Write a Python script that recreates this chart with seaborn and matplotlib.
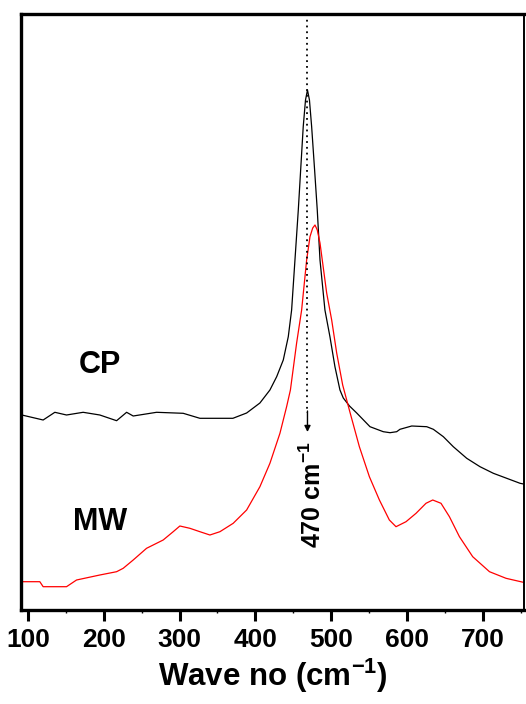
import matplotlib
matplotlib.use("Agg")
import matplotlib.pyplot as plt
import seaborn as sns
import pandas as pd
from matplotlib.ticker import MultipleLocator

# ---- data ----
cp_wn = [92.1, 120.2, 135.6, 151.0, 172.9, 194.9, 217.0, 230.2, 238.9, 269.7, 304.8,
         326.8, 370.3, 388.4, 405.9, 419.1, 428.0, 436.7, 443.3, 447.7, 452.1, 456.5,
         460.0, 463.0, 466.0, 468.6, 471.2, 474.1, 478.0, 481.5, 485.1, 491.6, 498.2,
         504.8, 511.4, 515.8, 524.0, 533.5, 551.0, 568.5, 577.4, 586.2, 590.5, 606.0,
         625.8, 634.5, 647.7, 660.8, 678.5, 696.0, 713.6, 731.2, 748.8, 755.4]
cp_int = [195, 190, 197.7, 195, 197.7, 195, 189.3, 197.7, 194, 197.7, 196.7,
          191.7, 191.7, 197, 207, 220, 233.3, 250, 273.3, 300, 350, 400,
          445, 483.3, 510, 520, 510, 483.3, 440, 400, 350, 300, 273.3,
          243.3, 220, 212, 204, 197, 183.3, 178.3, 177.3, 178.3, 180.7, 184,
          183.3, 180.7, 173.3, 163.3, 151.7, 143.3, 136.7, 131.7, 126.7, 125.7]

mw_wn = [92.1, 115.8, 120.2, 151.0, 164.2, 194.9, 217.0, 225.7, 238.9, 256.5, 278.4,
         291.6, 300.4, 313.6, 326.8, 340.0, 353.2, 370.7, 388.4, 405.9, 419.1, 432.3,
         441.1, 446.1, 454.3, 460.9, 467.5, 471.9, 475.5, 478.5, 481.5, 485.1, 493.9,
         500.5, 507.1, 515.0, 523.8, 537.0, 550.2, 563.4, 576.5, 585.3, 598.5, 611.7,
         624.8, 633.7, 644.6, 655.7, 668.9, 686.4, 708.5, 730.3, 755.4]
mw_int = [28.3, 28.3, 23.3, 23.3, 30, 35, 38.3, 41.7, 50, 61.7, 70,
          78.3, 84, 81.7, 78.3, 75, 78.3, 86.7, 100, 123.3, 146.7, 176.7,
          203.3, 220, 267, 300, 350, 373.3, 382, 385, 380, 367, 317,
          290, 257, 225, 200, 163.3, 133.3, 110, 90, 83.3, 88.3, 96.7,
          106.7, 110, 106.7, 93.3, 73.3, 53.3, 38.3, 31.7, 27.3]

peak_wn = 468.6
xticks = [100, 200, 300, 400, 500, 600, 700]

cp = pd.DataFrame({"wn": cp_wn, "I": cp_int})
mw = pd.DataFrame({"wn": mw_wn, "I": mw_int})

sns.set_theme(style="white")
plt.rcParams["font.family"] = ["Liberation Sans", "DejaVu Sans"]
plt.rcParams["font.weight"] = "bold"
plt.rcParams["text.color"] = "black"
plt.rcParams["axes.labelcolor"] = "black"
plt.rcParams["xtick.color"] = "black"
plt.rcParams["mathtext.fontset"] = "custom"
plt.rcParams["mathtext.rm"] = "Liberation Sans:bold"
plt.rcParams["mathtext.it"] = "Liberation Sans:bold"
plt.rcParams["mathtext.bf"] = "Liberation Sans:bold"
plt.rcParams["mathtext.default"] = "regular"

fig = plt.figure(figsize=(5.26, 7.04), dpi=100)
ax = fig.add_axes([21/526, 94/704, 503/526, 596/704])

sns.lineplot(data=cp, x="wn", y="I", ax=ax, color="black", lw=0.9,
             sort=False, estimator=None)
sns.lineplot(data=mw, x="wn", y="I", ax=ax, color="red", lw=0.9,
             sort=False, estimator=None)

ax.set_xlim(91, 754)
ax.set_ylim(0, 596)

# dotted marker line with arrow
ax.plot([peak_wn, peak_wn], [596, 197], color="black", lw=1.3, ls=(0, (1, 2.2)))
ax.annotate("", xy=(peak_wn, 178), xytext=(peak_wn, 199),
            arrowprops=dict(arrowstyle="-|>", color="black", lw=1.0,
                            mutation_scale=9, shrinkA=0, shrinkB=0))

ax.text(476, 115, "470 cm$^{-1}$", rotation=90, ha="center", va="center",
        fontsize=18, fontweight="bold", color="black")
ax.text(195, 245, "CP", ha="center", va="center", fontsize=22, fontweight="bold",
        color="black")
ax.text(195, 87.5, "MW", ha="center", va="center", fontsize=22, fontweight="bold",
        color="black")

ax.set_yticks([])
ax.set_xticks(xticks)
ax.set_xticklabels([str(t) for t in xticks])
ax.xaxis.set_minor_locator(MultipleLocator(50))
ax.tick_params(axis="x", which="major", direction="out", length=8, width=2.2,
               labelsize=19, pad=5, bottom=True, colors="black", labelcolor="black")
ax.tick_params(axis="x", which="minor", direction="out", length=2.5, width=1.0,
               bottom=True, colors="black")
for lbl in ax.get_xticklabels():
    lbl.set_fontweight("bold")

ax.set_xlabel("Wave no (cm$^{-1}$)", fontsize=22.5, fontweight="bold", labelpad=3,
              color="black")
ax.set_ylabel("")

for side in ["left", "top", "bottom"]:
    ax.spines[side].set_linewidth(2.4)
    ax.spines[side].set_color("black")
ax.spines["right"].set_linewidth(1.4)
ax.spines["right"].set_color("black")

fig.savefig("out.png", dpi=100)
